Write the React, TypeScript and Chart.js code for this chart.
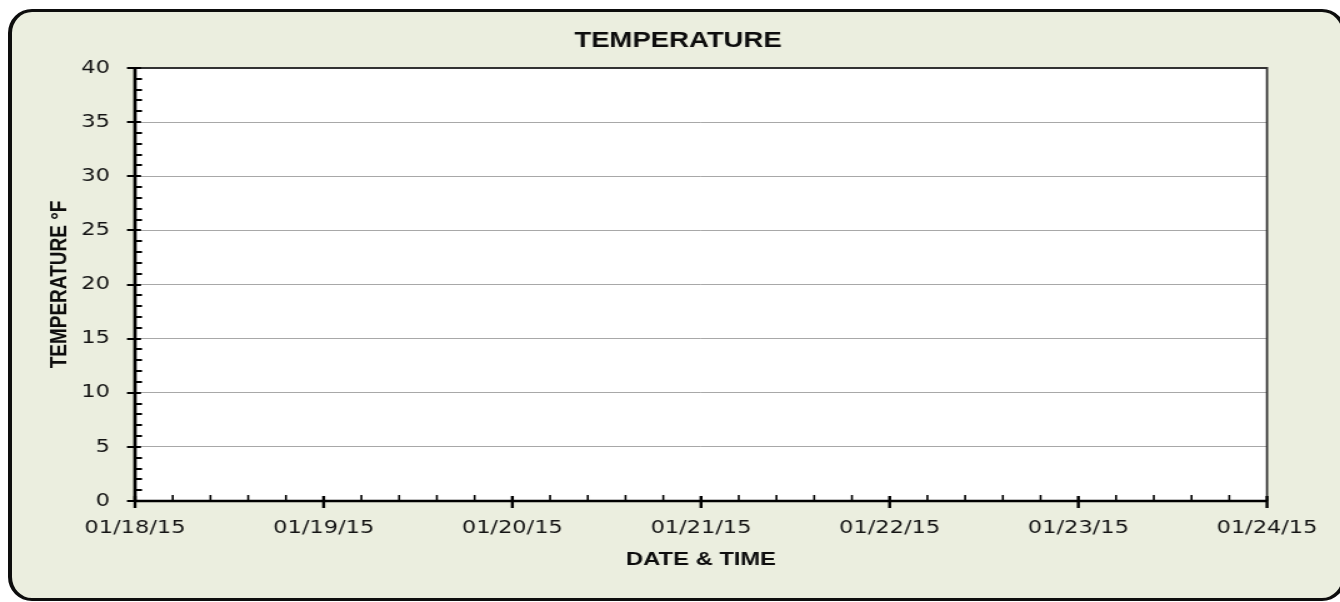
import React, { useEffect, useRef } from "react";
import { Chart, registerables } from "chart.js";

Chart.register(...registerables);

// ---- content ----
const TITLE = "TEMPERATURE";
const Y_TITLE = "TEMPERATURE °F";
const X_TITLE = "DATE & TIME";
const X_LABELS = ["01/18/15", "01/19/15", "01/20/15", "01/21/15", "01/22/15", "01/23/15", "01/24/15"];
const Y_MIN = 0;
const Y_MAX = 40;
const Y_STEP = 5;
const Y_MINOR_STEP = 1;
const X_MINOR_PER_DAY = 5;
// the reference chart has no plotted readings
const TEMPERATURE_POINTS: { x: number; y: number }[] = [];

// ---- layout ----
const SX = 1.25; // horizontal stretch of the whole picture
const CW = 1072;
const CH = 602;

const TICK_FONT = "'DejaVu Sans', Verdana, sans-serif";
const AXIS_TITLE_FONT = "'Liberation Sans Narrow', 'Arial Narrow', sans-serif";
const MAIN_TITLE_FONT = "'Liberation Sans', Arial, sans-serif";

const excelFrame = {
  id: "excelFrame",
  beforeDraw(chart: any) {
    const { ctx, chartArea: a } = chart;
    ctx.save();
    ctx.fillStyle = "#ffffff";
    ctx.fillRect(a.left, a.top, a.right - a.left, a.bottom - a.top);
    ctx.restore();
  },
  afterDraw(chart: any) {
    const { ctx, chartArea: a, scales } = chart;
    const xs = scales.x;
    const ys = scales.y;
    ctx.save();
    ctx.lineCap = "butt";

    // plot border top & right
    ctx.strokeStyle = "#333333";
    ctx.lineWidth = 2;
    ctx.beginPath();
    ctx.moveTo(a.left, a.top);
    ctx.lineTo(a.right, a.top);
    ctx.stroke();
    ctx.lineWidth = 2.2 / SX;
    ctx.beginPath();
    ctx.moveTo(a.right, a.top - 1);
    ctx.lineTo(a.right, a.bottom);
    ctx.stroke();

    ctx.strokeStyle = "#000000";
    // y axis minor ticks
    ctx.lineWidth = 2;
    for (let v = Y_MIN; v <= Y_MAX; v += Y_MINOR_STEP) {
      if (v % Y_STEP === 0) continue;
      const py = Math.round(ys.getPixelForValue(v));
      ctx.beginPath();
      ctx.moveTo(a.left, py);
      ctx.lineTo(a.left + 7 / SX, py);
      ctx.stroke();
    }
    // y axis major ticks
    for (let v = Y_MIN; v <= Y_MAX; v += Y_STEP) {
      const py = Math.round(ys.getPixelForValue(v));
      ctx.beginPath();
      ctx.moveTo(a.left - 8 / SX, py);
      ctx.lineTo(a.left + 6 / SX, py);
      ctx.stroke();
    }
    // x axis ticks
    const days = X_LABELS.length - 1;
    for (let d = 0; d < days; d++) {
      for (let k = 1; k < X_MINOR_PER_DAY; k++) {
        const px = xs.getPixelForValue(d + k / X_MINOR_PER_DAY);
        ctx.lineWidth = 2 / SX;
        ctx.beginPath();
        ctx.moveTo(px, a.bottom);
        ctx.lineTo(px, a.bottom - 6);
        ctx.stroke();
      }
    }
    for (let d = 0; d <= days; d++) {
      const px = xs.getPixelForValue(d);
      ctx.lineWidth = 3 / SX;
      ctx.beginPath();
      ctx.moveTo(px, a.bottom - 5);
      ctx.lineTo(px, a.bottom + 7);
      ctx.stroke();
    }

    // axis lines
    ctx.lineWidth = 3.4 / SX;
    ctx.beginPath();
    ctx.moveTo(a.left, a.top - 1);
    ctx.lineTo(a.left, a.bottom + 1);
    ctx.stroke();
    ctx.lineWidth = 2.6;
    ctx.beginPath();
    ctx.moveTo(a.left, a.bottom);
    ctx.lineTo(a.right, a.bottom);
    ctx.stroke();

    // main title
    ctx.fillStyle = "#0d0d0d";
    ctx.font = `bold 22px ${MAIN_TITLE_FONT}`;
    ctx.textAlign = "center";
    ctx.textBaseline = "middle";
    ctx.fillText(TITLE, 542.4, 41);
    ctx.restore();
  },
};

export default function App() {
  const ref = useRef<HTMLCanvasElement | null>(null);

  useEffect(() => {
    if (!ref.current) return;
    const chart = new Chart(ref.current, {
      type: "scatter",
      data: {
        datasets: [
          {
            label: "Temperature",
            data: TEMPERATURE_POINTS,
            showLine: true,
            borderColor: "#1f4e79",
            pointRadius: 0,
          },
        ],
      },
      options: {
        responsive: false,
        animation: false,
        devicePixelRatio: 1,
        layout: { padding: { left: 10, right: 58.4, top: 68, bottom: 30.6 } },
        plugins: {
          legend: { display: false },
          tooltip: { enabled: false },
          title: { display: false },
        },
        scales: {
          x: {
            type: "linear",
            min: 0,
            max: X_LABELS.length - 1,
            afterFit: (s: any) => {
              s.height = 70.4;
            },
            ticks: {
              stepSize: 1,
              autoSkip: false,
              maxRotation: 0,
              padding: 16.7,
              color: "#141414",
              font: { family: TICK_FONT, size: 18 },
              callback: (v: any) => X_LABELS[Number(v)] ?? "",
            },
            grid: { display: false, drawTicks: false },
            border: { display: false },
            title: {
              display: true,
              text: X_TITLE,
              color: "#0d0d0d",
              font: { family: AXIS_TITLE_FONT, size: 19, weight: "bold" },
              padding: { top: 0, bottom: 0 },
            },
          },
          y: {
            type: "linear",
            min: Y_MIN,
            max: Y_MAX,
            afterFit: (s: any) => {
              s.width = 98;
            },
            ticks: {
              stepSize: Y_STEP,
              padding: 20,
              color: "#141414",
              font: { family: TICK_FONT, size: 18 },
            },
            grid: { color: "#a8a8a8", lineWidth: 1, drawTicks: false },
            border: { display: false },
            title: {
              display: true,
              text: Y_TITLE,
              color: "#0d0d0d",
              font: { family: AXIS_TITLE_FONT, size: 19, weight: "bold" },
              padding: { top: 26.6, bottom: 0 },
            },
          },
        },
      },
      plugins: [excelFrame],
    } as any);
    return () => chart.destroy();
  }, []);

  return (
    <div style={{ position: "fixed", left: 0, top: 0, width: 1340, height: 602, overflow: "hidden" }}>
      <div
        style={{
          position: "absolute",
          left: 8,
          top: 9,
          width: 1338,
          height: 592,
          boxSizing: "border-box",
          border: "3px solid #0d0d0d",
          borderLeftWidth: 4,
          borderRightWidth: 4,
          borderRadius: 24,
          background: "#EBEEDF",
        }}
      />
      <div
        style={{
          position: "absolute",
          left: 0,
          top: 0,
          width: CW,
          height: CH,
          transform: `scaleX(${SX})`,
          transformOrigin: "0 0",
        }}
      >
        <canvas ref={ref} width={CW} height={CH} style={{ display: "block" }} />
      </div>
    </div>
  );
}
